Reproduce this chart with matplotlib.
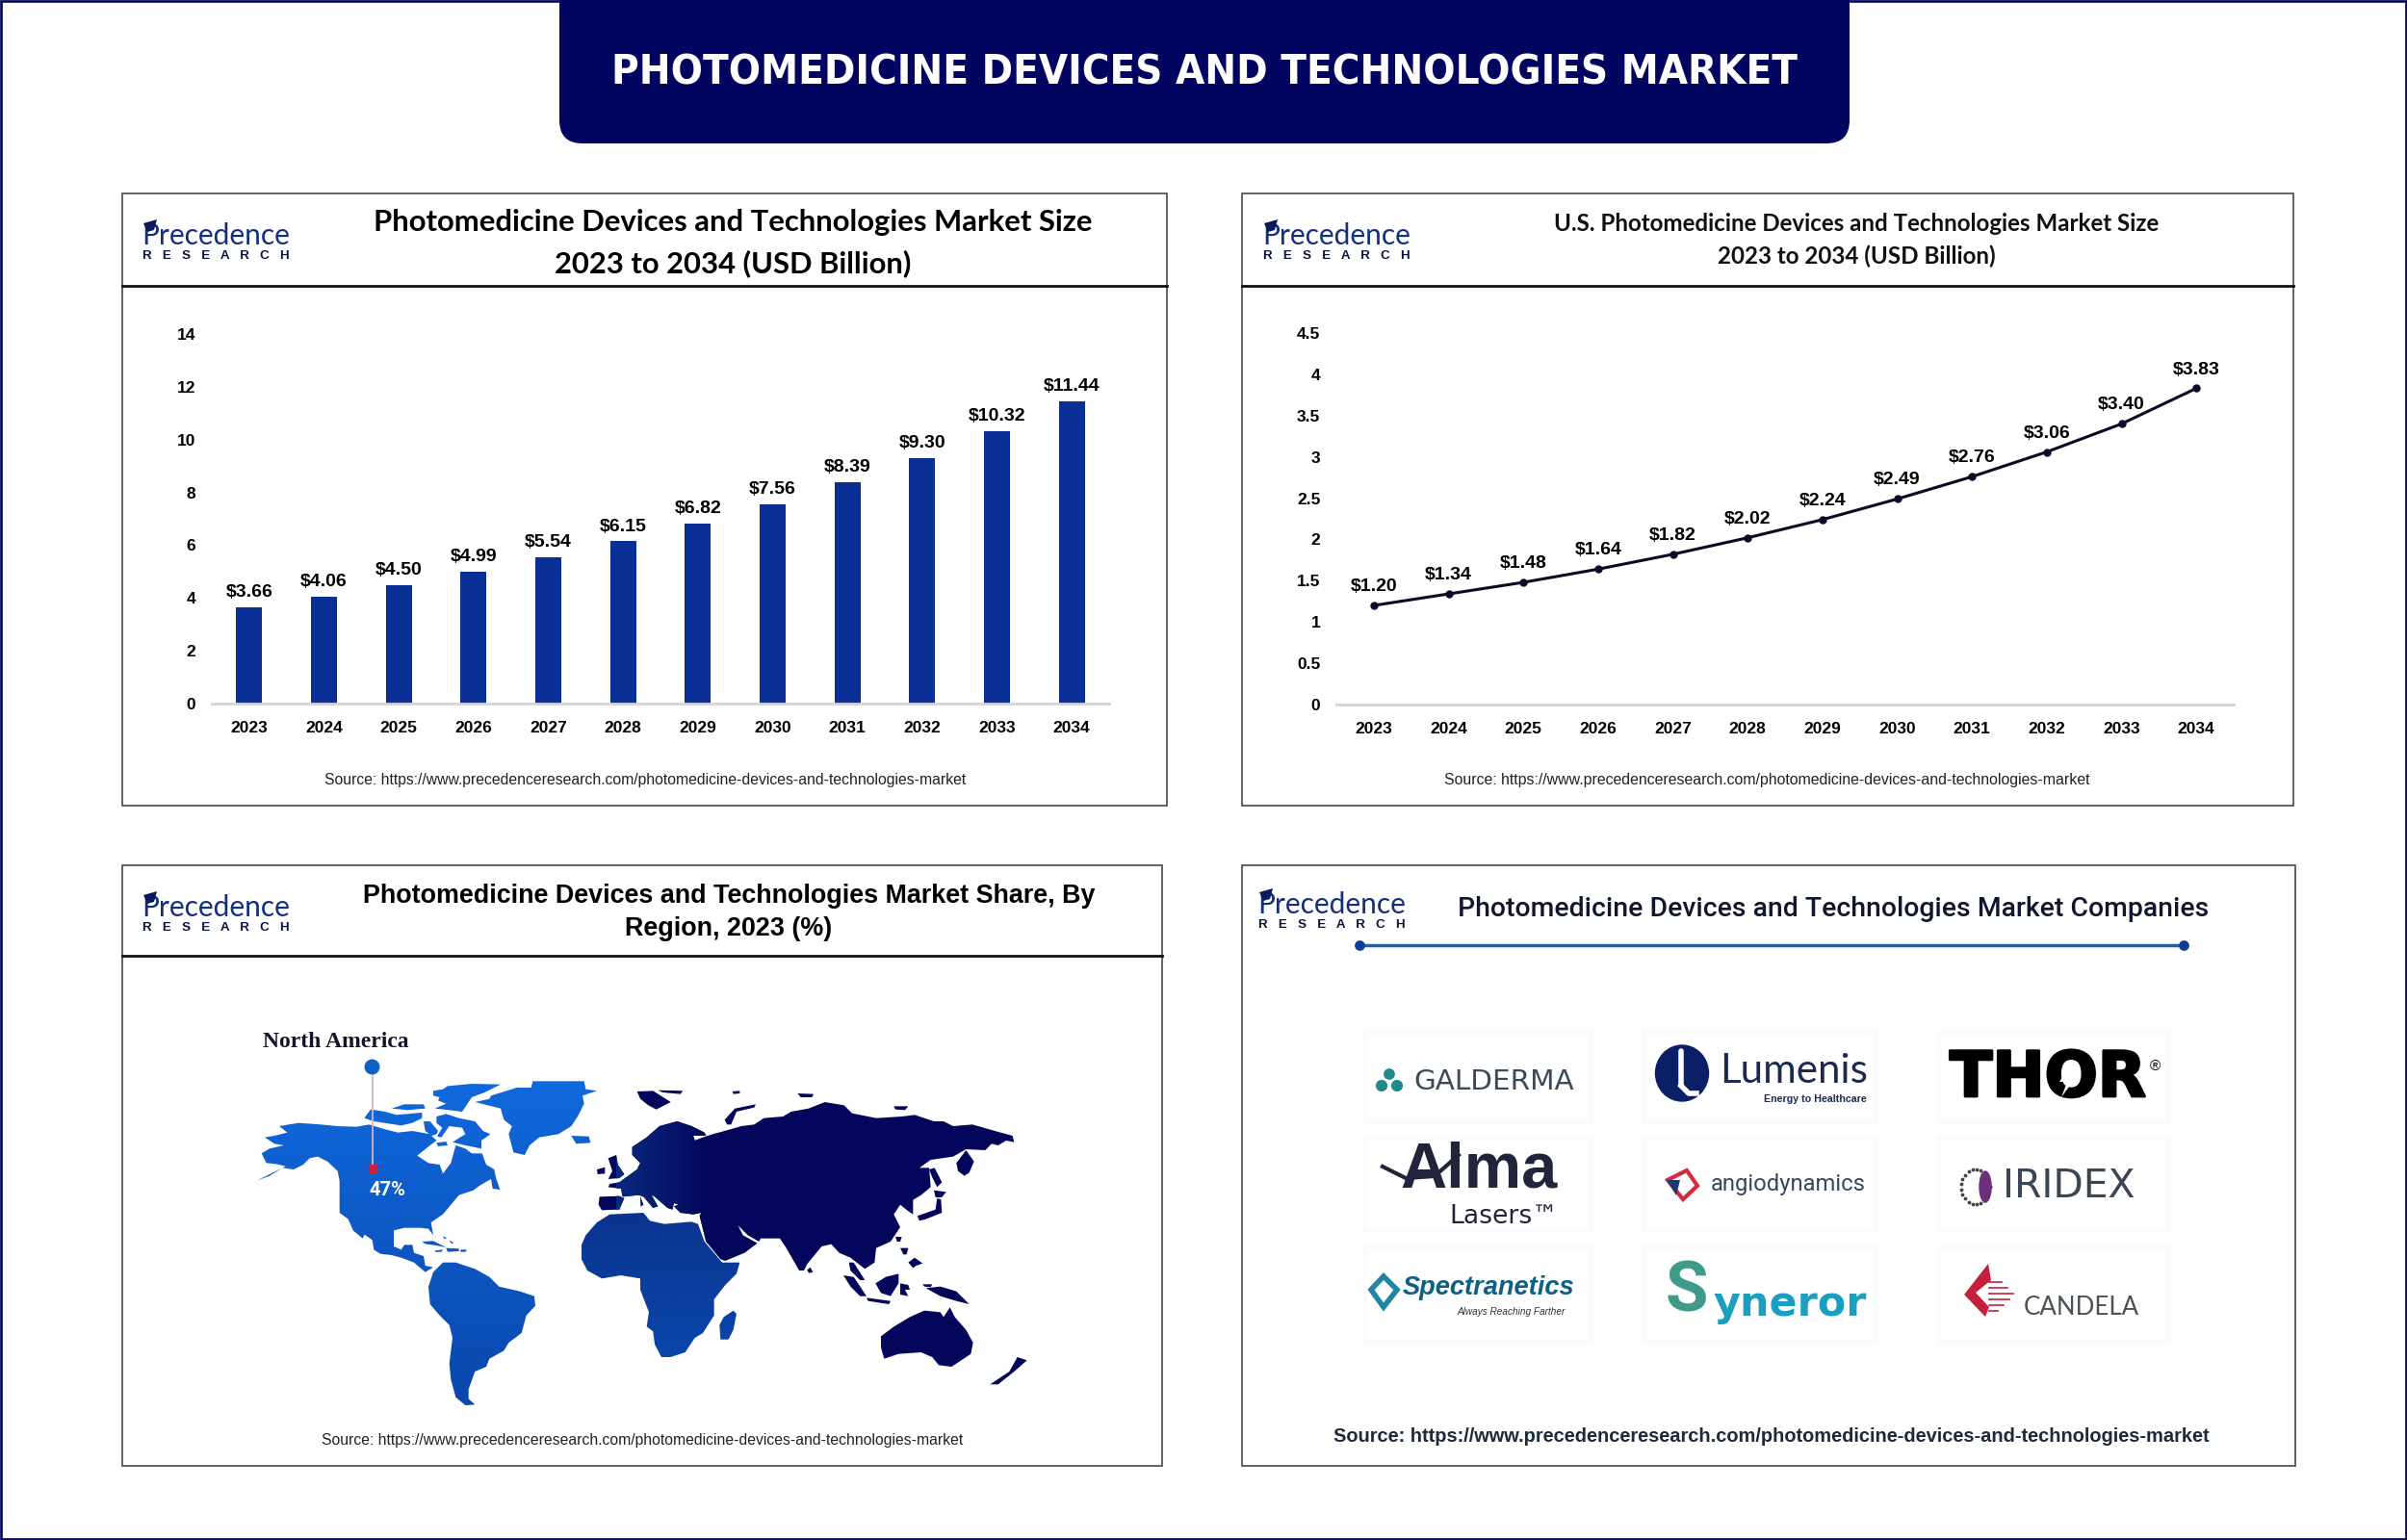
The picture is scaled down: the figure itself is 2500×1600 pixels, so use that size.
import numpy as np
import matplotlib
matplotlib.use('Agg')
import matplotlib.pyplot as plt
from matplotlib import font_manager as fm
from matplotlib.colors import LinearSegmentedColormap
from matplotlib.patches import Rectangle, Polygon, Ellipse, FancyBboxPatch
import matplotlib.patheffects as pe

# datos
years = ['2023', '2024', '2025', '2026', '2027', '2028', '2029', '2030', '2031', '2032', '2033', '2034']
global_size = [3.66, 4.06, 4.50, 4.99, 5.54, 6.15, 6.82, 7.56, 8.39, 9.30, 10.32, 11.44]
us_size = [1.20, 1.34, 1.48, 1.64, 1.82, 2.02, 2.24, 2.49, 2.76, 3.06, 3.40, 3.83]
bar_ticks = [0, 2, 4, 6, 8, 10, 12, 14]
line_ticks = [0, 0.5, 1, 1.5, 2, 2.5, 3, 3.5, 4, 4.5]
line_tick_labels = ['0', '0.5', '1', '1.5', '2', '2.5', '3', '3.5', '4', '4.5']
source = 'Source: https://www.precedenceresearch.com/photomedicine-devices-and-technologies-market'

# contornos del mapa, calcados a mano (coordenadas de recorte x3)
north_america = [(20,350),(60,335),(100,310),(135,315),(165,300),(185,280),(210,275),(240,290),(272,320),(278,350),(278,450),
    (305,470),(320,505),(350,530),(356,518),(380,535),(385,565),(405,578),(440,582),(470,590),(510,605),(545,635),(570,620),
    (545,615),(540,585),(510,575),(505,550),(480,550),(470,565),(447,555),(447,505),(480,497),(530,497),(555,500),(570,520),
    (563,480),(600,455),(625,425),(650,395),(695,380),(715,365),(750,345),(755,375),(778,378),(765,340),(760,315),(735,300),
    (722,265),(690,265),(670,250),(640,240),(625,295),(600,328),(590,300),(555,295),(520,272),(560,240),(580,225),(560,205),
    (505,195),(460,200),(420,190),(370,175),(330,182),(270,180),(220,175),(150,170),(90,180),(115,200),(75,210),(45,215),
    (75,235),(105,240),(60,250),(35,265),(50,295),(80,298),(110,305),(60,330)]
america_islands = [
    [(355,155),(375,128),(420,135),(455,145),(535,138),(535,155),(505,170),(470,178),(430,172),(385,165)],
    [(440,125),(480,112),(540,112),(545,125),(490,130)],
    [(540,165),(560,165),(585,195),(580,205),(565,210),(545,195)],
    [(580,150),(610,142),(650,155),(700,165),(725,195),(748,205),(720,225),(720,250),(670,240),(630,230),(670,205),(660,185),
     (620,180),(595,215),(582,212),(598,185),(580,170)],
    [(580,232),(610,228),(615,240),(585,243)],
    [(570,70),(600,65),(615,55),(690,48),(780,50),(730,75),(690,90),(660,135),(620,130),(575,125),(610,110),(585,100),(590,90),(570,85)],
    [(750,85),(830,60),(875,60),(880,40),(1040,40),(1045,65),(1080,70),(1035,85),(1040,110),(1020,150),(1000,180),(960,205),(900,215),
     (870,240),(855,270),(820,262),(805,205),(815,180),(790,160),(780,125),(700,105),(745,95)],
    [(1000,210),(1055,212),(1060,232),(1015,235)],
    [(535,540),(570,538),(610,558),(580,552),(545,547)],
    [(575,568),(600,565),(595,572),(575,572)],
    [(610,560),(650,562),(650,570),(615,572)],
    [(655,565),(675,565),(670,572),(655,572)],
    [(600,522),(612,530),(605,532)],
    [(620,535),(635,545),(625,545)],
]
south_america = [(570,635),(600,605),(640,605),(700,625),(745,650),(775,680),(840,695),(885,710),(888,740),(860,770),(845,825),
    (805,855),(790,880),(745,905),(735,930),(700,945),(680,1000),(680,1030),(700,1048),(670,1050),(640,1025),(625,970),(620,920),
    (630,840),(620,800),(590,770),(560,735),(555,680)]
africa = [(60,450),(100,425),(205,420),(225,445),(270,455),(355,448),(375,455),(395,510),(450,575),(505,575),(495,610),(460,645),
    (425,690),(425,740),(390,795),(365,810),(335,855),(265,878),(240,830),(235,790),(215,775),(222,730),(195,660),(195,625),(135,615),
    (75,625),(30,600),(12,565),(12,520),(25,490)]
madagascar = [(485,725),(495,735),(485,785),(470,815),(445,815),(442,770),(455,745)]
eurasia = [(100,330),(130,325),(185,285),(195,265),(170,240),(170,215),(215,185),(255,150),(310,135),(355,150),(395,170),(400,180),
    (360,180),(365,195),(420,175),(440,170),(510,150),(550,145),(580,125),(640,120),(665,105),(720,95),(770,75),(830,85),(855,110),
    (930,125),(1010,120),(1050,115),(1110,135),(1140,135),(1170,150),(1230,145),(1300,165),(1355,180),(1360,200),(1335,195),(1310,210),
    (1290,205),(1270,225),(1210,222),(1170,245),(1100,255),(1065,280),(1095,280),(1100,340),(1070,365),(1045,380),(1045,425),(1030,415),
    (1005,395),(985,425),(1005,465),(975,510),(930,530),(925,575),(895,595),(850,560),(815,545),(790,518),(760,525),(715,580),(705,600),
    (690,600),(650,530),(630,500),(570,500),(565,510),(530,490),(500,460),(515,490),(560,515),(520,545),(460,570),(445,565),(400,510),
    (380,430),(385,420),(360,425),(320,420),(300,400),(315,395),(300,390),(295,410),(280,405),(240,370),(230,365),(250,400),(235,405),
    (205,370),(190,365),(140,370),(135,345),(95,340)]
europe_islands = [
    [(68,370),(130,368),(145,375),(130,410),(75,412),(65,395)],
    [(195,370),(205,395),(197,400)],
    [(95,250),(120,240),(125,270),(145,300),(130,312),(95,315),(108,290)],
    [(60,285),(85,278),(85,298),(62,300)],
]
asia_islands = [
    [(845,575),(860,575),(895,630),(880,630),(850,600)],
    [(1180,265),(1210,225),(1235,260),(1220,295),(1205,305),(1185,290)],
    [(185,42),(235,40),(290,75),(245,98),(220,85),(195,65)],
    [(250,38),(328,40),(320,50),(265,45)],
    [(458,130),(490,95),(555,82),(550,92),(495,105),(478,145),(465,145)],
    [(482,42),(505,40),(505,48),(485,50)],
    [(685,48),(735,50),(730,60),(695,60)],
    [(985,88),(1030,88),(1020,100),(990,98)],
    [(1095,285),(1112,280),(1135,325),(1120,340),(1105,310)],
    [(1110,350),(1148,355),(1135,372),(1115,372)],
    [(1120,375),(1132,378),(1135,420),(1085,440),(1065,445),(1058,430),(1115,410)],
    [(990,495),(1010,495),(1005,510),(995,510)],
    [(1005,530),(1030,530),(1025,550),(1015,550)],
    [(1030,575),(1050,560),(1075,578),(1055,585),(1045,592)],
    [(828,615),(860,620),(900,680),(880,680),(850,650)],
    [(928,640),(960,620),(1000,610),(1000,640),(975,680),(945,670)],
    [(1005,640),(1030,645),(1035,660),(1020,660),(1030,680),(1005,675)],
    [(900,685),(975,695),(970,705),(905,695)],
    [(1085,655),(1130,650),(1180,665),(1220,705),(1180,695),(1130,680)],
    [(1075,643),(1105,643),(1100,652),(1080,650)],
    [(945,805),(985,775),(1035,745),(1080,725),(1130,730),(1140,745),(1160,715),(1175,745),(1210,785),(1232,825),(1225,860),(1165,900),
     (1125,895),(1105,870),(1070,855),(1000,860),(955,875),(945,840)],
    [(1370,870),(1400,880),(1360,915),(1310,955),(1285,955),(1345,915)],
    [(715,598),(725,590),(733,605),(720,608)],
]

NAVY = '#020560'
BAR = '#0a2f96'
SANS = 'Liberation Sans'

fig = plt.figure(figsize=(25, 16), dpi=100, facecolor='white')
bg = fig.add_axes([0, 0, 1, 1])
bg.set_xlim(0, 2500)
bg.set_ylim(1600, 0)
bg.autoscale(False)
bg.axis('off')
renderer = fig.canvas.get_renderer()


def px_axes(x0, y0, x1, y1):
    ax = fig.add_axes([x0 / 2500, 1 - y1 / 1600, (x1 - x0) / 2500, (y1 - y0) / 1600])
    ax.patch.set_alpha(0)
    return ax


def T(x, y, s, size, color='black', weight='normal', family=SANS, ha='center', width=None, **kw):
    t = bg.text(x, y + 2, s, fontsize=size, color=color, fontweight=weight, family=family, ha=ha, va='center', zorder=5, **kw)
    if width:
        # ajusta el tamaño para que el texto mida lo mismo que en la captura
        t.set_fontsize(size * width / t.get_window_extent(renderer).width)
    return t


def logo(x, y):
    T(x, y + 17, 'Precedence', 21, color='#12307e', family='Lato', ha='left', width=154)
    bg.add_patch(Polygon([(x + 2, y + 6), (x + 16, y + 2), (x + 13, y + 13), (x + 6, y + 15)], color='#0a1a5c', lw=0, zorder=6))
    T(x + 1, y + 38, 'R   E   S   E   A   R   C   H', 9.5, color='#0a1440', weight='bold', ha='left', width=152)


def panel(x0, y0, x1, y1, header=None):
    bg.add_patch(Rectangle((x0, y0), x1 - x0, y1 - y0, fc='white', ec='#444850', lw=1.2))
    if header:
        bg.plot([x0, x1], [header, header], color='#111111', lw=2)


def style_axes(ax, ticks, labels):
    for s in ['top', 'left', 'right']:
        ax.spines[s].set_visible(False)
    ax.spines['bottom'].set_color('#d4d4d4')
    ax.spines['bottom'].set_linewidth(2)
    ax.set_xlim(-0.5, 11.5)
    ax.set_xticks(range(len(years)))
    ax.set_xticklabels(years)
    ax.set_yticks(ticks)
    ax.set_yticklabels(labels)
    ax.tick_params(axis='both', length=0, labelsize=12.5, pad=12)
    ax.tick_params(axis='x', pad=13)
    for lab in ax.get_xticklabels() + ax.get_yticklabels():
        lab.set_fontweight('bold')
        lab.set_family(SANS)


def to_px(poly, x0, y0):
    return [(x0 + p[0] / 3, y0 + p[1] / 3) for p in poly]


def land(poly, c0, c1, lims, horiz=False):
    cmap = LinearSegmentedColormap.from_list('g', [c0, c1])
    grad = np.linspace(0, 1, 256).reshape(-1, 1)
    if horiz:
        grad = grad.T
        ext = (lims[0], lims[1], 1600, 0)
        # lo que queda fuera del degradado lleva el color final
        bg.add_patch(Polygon(poly, color=c1, lw=0, zorder=2))
    else:
        ext = (0, 2500, lims[1], lims[0])
    im = bg.imshow(grad, cmap=cmap, extent=ext, aspect='auto', zorder=2.1, interpolation='bilinear')
    im.set_clip_path(Polygon(poly, transform=bg.transData))


# banner y marco exterior
bg.add_patch(Rectangle((1, 1), 2498, 1598, fc='none', ec='#0a0f5c', lw=2))
bg.add_patch(FancyBboxPatch((581, -60), 1340, 209, boxstyle='round,pad=0,rounding_size=24', fc=NAVY, ec='none'))
narrow = [f for f in fm.fontManager.ttflist
          if ('ondensed' in f.fname or 'Narrow' in f.fname) and 'Bold' in f.fname and 'Oblique' not in f.fname and 'Italic' not in f.fname]
banner = T(1251, 74, 'PHOTOMEDICINE DEVICES AND TECHNOLOGIES MARKET', 33, color='white', weight='bold', family='Roboto')
if narrow:
    banner.set_fontproperties(fm.FontProperties(fname=narrow[0].fname, size=33))
banner.set_fontsize(33 * 1230 / banner.get_window_extent(renderer).width)

# panel 1: barras
panel(127, 201, 1212, 837, header=297)
logo(147, 226)
t = T(761, 229, 'Photomedicine Devices and Technologies Market Size', 22.5, weight='bold', family='Lato', width=749)
T(761, 272, '2023 to 2034 (USD Billion)', t.get_fontsize(), weight='bold', family='Lato')
ax1 = px_axes(220, 347, 1152, 731)
ax1.bar(range(len(years)), global_size, width=0.345, color=BAR)
ax1.set_ylim(0, 14)
style_axes(ax1, bar_ticks, [str(v) for v in bar_ticks])
for i, v in enumerate(global_size):
    ax1.annotate(f'${v:.2f}', (i, v), xytext=(0, 11), textcoords='offset points', ha='center', va='center',
                 fontsize=14, fontweight='bold', family=SANS)
T(670, 809, source, 11.4, color='#222222', width=667)

# panel 2: linea
panel(1290, 201, 2382, 837, header=297)
logo(1311, 226)
t = T(1928, 231, 'U.S. Photomedicine Devices and Technologies Market Size', 17.3, weight='bold', family='Lato', color='#111111', width=628)
T(1928, 264, '2023 to 2034 (USD Billion)', t.get_fontsize(), weight='bold', family='Lato', color='#111111')
ax2 = px_axes(1388, 346, 2320, 732)
ax2.plot(range(len(years)), us_size, color='#0a0a28', lw=2.2, marker='o', ms=5)
ax2.set_ylim(0, 4.5)
style_axes(ax2, line_ticks, line_tick_labels)
for i, v in enumerate(us_size):
    ax2.annotate(f'${v:.2f}', (i, v), xytext=(0, 14), textcoords='offset points', ha='center', va='center',
                 fontsize=14, fontweight='bold', family=SANS)
T(1835, 809, source, 11.4, color='#222222', width=672)

# panel 3: mapa
panel(127, 899, 1207, 1523, header=993)
logo(147, 924)
t = T(757, 929, 'Photomedicine Devices and Technologies Market Share, By', 19.5, weight='bold', width=763)
T(757, 963, 'Region, 2023 (%)', t.get_fontsize(), weight='bold')
for p in [north_america] + america_islands + [south_america]:
    land(to_px(p, 260, 1110), '#1069dd', '#0a47ab', (1120, 1460))
for p in [africa, madagascar]:
    land(to_px(p, 600, 1120), '#0a348f', '#0a46aa', (1260, 1410))
for p in [eurasia] + europe_islands:
    land(to_px(p, 600, 1120), '#0a2a80', '#03065a', (640, 735), horiz=True)
for p in asia_islands:
    bg.add_patch(Polygon(to_px(p, 600, 1120), color='#03065a', lw=0, zorder=2))
bg.plot([387, 387], [1112, 1214], color='#d8b4b8', lw=1.3, zorder=3)
bg.scatter([386], [1108], s=110, color='#0f5fc8', zorder=4)
bg.scatter([387], [1214], s=36, color='#d01e3c', marker='s', zorder=4)
T(402, 1235, '47%', 14.5, color='white', weight='bold', family='Roboto')
T(273, 1081, 'North America', 18, color='#14142a', weight='bold', family='Liberation Serif', ha='left', width=151)
T(667, 1494, source, 11.4, color='#222222', width=665)

# panel 4: empresas
panel(1290, 899, 2384, 1523)
logo(1306, 921)
T(1904, 943, 'Photomedicine Devices and Technologies Market Companies', 20.4, weight='medium', family='Roboto', color='#10162f', width=782)
bg.plot([1412, 2268], [982, 982], color='#1a5fb4', lw=2.5)
bg.scatter([1412, 2268], [982, 982], s=45, color='#0c3f8f', zorder=3)
T(1840, 1490, source, 14.4, color='#1c2a3a', weight='bold', width=912)

# tarjetas
for cx in [(1420, 1650), (1710, 1946), (2017, 2250)]:
    for cy in [(1074, 1163), (1185, 1276), (1299, 1392)]:
        bg.add_patch(Rectangle((cx[0] - 5, cy[0] - 5), cx[1] - cx[0] + 10, cy[1] - cy[0] + 10, fc='#fbfbfd', ec='none'))
        bg.add_patch(Rectangle((cx[0], cy[0]), cx[1] - cx[0], cy[1] - cy[0], fc='white', ec='none'))

# Galderma
bg.scatter([1443, 1435, 1451], [1116, 1128, 1128], s=[55, 60, 60], color='#1f8a8e', zorder=4)
T(1468, 1122, 'GALDERMA', 18, color='#3b4a58', family='DejaVu Sans', ha='left', width=167)

# Lumenis
bg.add_patch(Ellipse((1747, 1115), 55, 58, color='#0b1f66', zorder=3))
bg.plot([1746, 1746], [1092, 1128], color='white', lw=4, solid_capstyle='round', zorder=4)
bg.plot([1746, 1754, 1762], [1128, 1136, 1136], color='white', lw=4, zorder=4)
T(1786, 1111, 'Lumenis', 31, color='#1a2a50', family='Lato', ha='left', width=153)
T(1939, 1140, 'Energy to Healthcare', 9.5, color='#1a2a50', weight='bold', ha='right', width=107)

# Thor
thor = T(2025, 1119, 'THOR', 43, weight='bold', family='DejaVu Sans', ha='left', width=204)
thor.set_path_effects([pe.withStroke(linewidth=2, foreground='black')])
bg.add_patch(Polygon([(2152, 1103), (2139, 1124), (2147, 1124), (2141, 1140), (2157, 1118), (2149, 1118)], color='white', lw=0, zorder=6))
T(2238, 1106, '®', 11)

# Alma
T(1536, 1214, 'Alma', 40, color='#22243c', weight='bold', width=163)
bg.plot([1436, 1460, 1490, 1515], [1212, 1224, 1222, 1200], color='#22243c', lw=3, zorder=6)
T(1505, 1262, 'Lasers™', 16, color='#22243c', family='DejaVu Sans', ha='left', width=113)

# AngioDynamics
bg.add_patch(Polygon([(1732, 1226), (1752, 1216), (1763, 1232), (1748, 1246)], fc='none', ec='#d42a3c', lw=3, zorder=4))
bg.add_patch(Polygon([(1731, 1226), (1745, 1226), (1741, 1242)], color='#1c3a6e', lw=0, zorder=4))
T(1777, 1229, 'angiodynamics', 18, color='#36475e', family='Roboto', ha='left', width=161)

# Iridex
th = np.linspace(0, 2 * np.pi, 22)
bg.scatter(2052 + 15 * np.cos(th), 1233 + 18 * np.sin(th), s=3, color='#444444', zorder=4)
bg.add_patch(Ellipse((2062, 1233), 12, 32, color='#6e2f7a', zorder=4))
T(2080, 1231, 'IRIDEX', 20, color='#3a4654', family='DejaVu Sans', ha='left', width=138)

# Spectranetics
bg.add_patch(Polygon([(1437, 1326), (1451, 1340), (1437, 1358), (1424, 1340)], fc='none', ec='#1f86a6', lw=4, zorder=4))
T(1457, 1336, 'Spectranetics', 23, color='#0f5f82', weight='bold', ha='left', style='italic', width=179)
T(1626, 1361, 'Always Reaching Farther', 9.5, color='#333333', ha='right', style='italic', width=112)

# Syneror
T(1752, 1341, 'S', 52, color='#3f9a8a', weight='bold', family='Roboto')
T(1780, 1353, 'yneror', 31, color='#1a9fc0', weight='bold', family='DejaVu Sans', ha='left', width=159)

# Candela
bg.add_patch(Polygon([(2065, 1313), (2040, 1345), (2062, 1368), (2066, 1358), (2052, 1343), (2068, 1330)], color='#c4203c', lw=0, zorder=4))
for yy in [1332, 1338, 1344, 1350, 1356, 1362]:
    bg.plot([2066, 2092 - abs(yy - 1345)], [yy, yy], color='#c4203c', lw=1.2, zorder=4)
T(2102, 1357, 'CANDELA', 20, color='#4b5358', family='Lato', ha='left', width=120)

fig.savefig('out.png', dpi=100, facecolor='white')
